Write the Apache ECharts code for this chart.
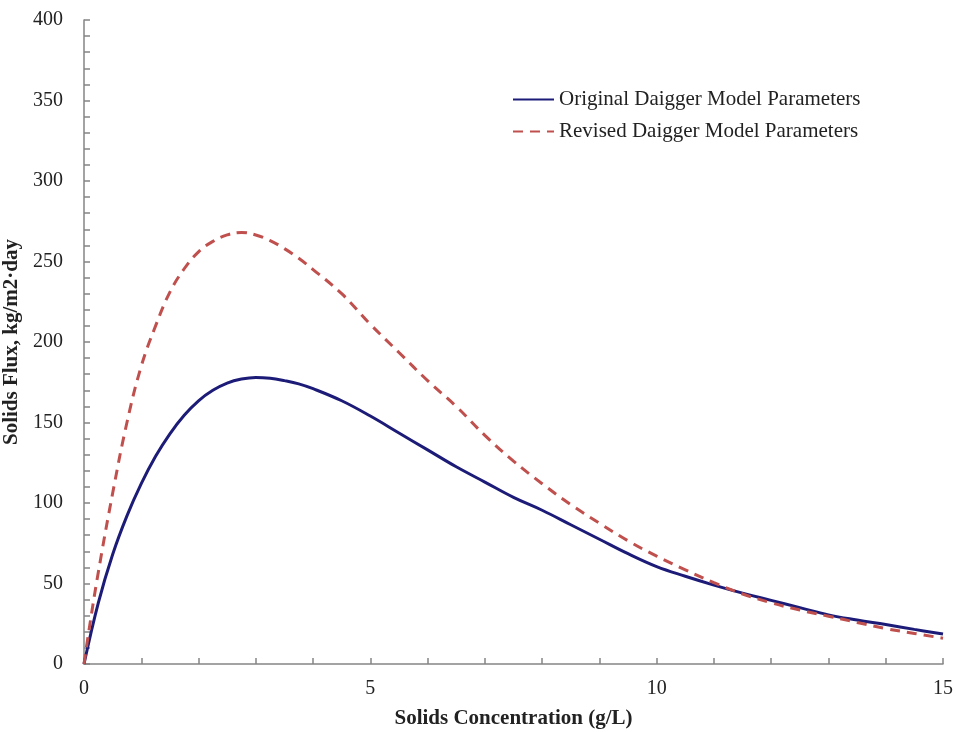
<!DOCTYPE html>
<html>
<head>
<meta charset="utf-8">
<script src="https://cdn.jsdelivr.net/npm/echarts@6/dist/echarts.min.js"></script>
<style>
  html, body { margin: 0; padding: 0; background: #fff; }
  #chart { width: 958px; height: 732px; }
</style>
</head>
<body>
<div id="chart"></div>
<script>
// series names
const seriesNames = ['Original Daigger Model Parameters', 'Revised Daigger Model Parameters'];

// solids concentration (g/L) and flux (kg/m2·day)
const origX = [0, 0.25, 0.5, 0.75, 1, 1.25, 1.5, 1.75, 2, 2.25, 2.5, 2.75, 3, 3.25, 3.5, 3.75, 4, 4.5, 5, 5.5, 6, 6.5, 7, 7.5, 8, 8.5, 9, 9.5, 10, 10.5, 11, 11.5, 12, 12.5, 13, 13.5, 14, 14.5, 15];
const origY = [0, 38, 68, 92, 112, 129, 143, 154.5, 163.5, 170, 174.5, 177, 178, 177.5, 176, 174, 171, 163.5, 154, 143.5, 133, 122.5, 113, 103.5, 95.5, 86.5, 77.5, 68.5, 60.5, 54.5, 49, 44, 39.5, 35, 30.5, 27.3, 24.5, 21.5, 18.6];

const revX = [0, 0.1, 0.25, 0.5, 0.75, 1, 1.25, 1.5, 1.75, 2, 2.25, 2.5, 2.75, 3, 3.25, 3.5, 3.75, 4, 4.5, 5, 5.5, 6, 6.5, 7, 7.5, 8, 8.5, 9, 9.5, 10, 10.5, 11, 11.5, 12, 12.5, 13, 13.5, 14, 14.5, 15];
const revY = [0, 24, 57, 106, 150, 185, 210, 231, 245.5, 256, 262.5, 266.5, 268, 266.5, 263, 258, 252, 245, 230, 211, 193.5, 176, 160, 142, 126, 112, 99, 87.5, 76.5, 67, 58.5, 50.5, 43.5, 38, 33.5, 29.7, 25.8, 22, 19, 16];

// axis ticks
const xTicks = [0, 5, 10, 15];
const yTicks = [0, 50, 100, 150, 200, 250, 300, 350, 400];

const pair = (xs, ys) => xs.map((x, i) => [x, ys[i]]);

const myChart = echarts.init(document.getElementById('chart'));

const serif = 'Liberation Serif';
const axisGray = '#858585';

const option = {
  animation: false,
  textStyle: { fontFamily: serif },
  grid: { left: 84, top: 20, right: 15, bottom: 68, containLabel: false, outerBoundsMode: 'none' },
  legend: {
    orient: 'vertical',
    left: 507,
    top: 84,
    itemWidth: 41,
    itemHeight: 12,
    itemGap: 11,
    itemStyle: { opacity: 0 },
    textStyle: { fontFamily: serif, fontSize: 21, color: '#222' },
    data: seriesNames,
  },
  xAxis: {
    type: 'value',
    min: xTicks[0],
    max: xTicks[xTicks.length - 1],
    interval: 5,
    name: 'Solids Concentration (g/L)',
    nameLocation: 'middle',
    nameGap: 44,
    nameTextStyle: { fontFamily: serif, fontSize: 21, fontWeight: 'bold', color: '#222' },
    axisLine: { lineStyle: { color: axisGray, width: 1.5 } },
    axisTick: { show: true, inside: true, length: 6, lineStyle: { color: axisGray, width: 1.5 } },
    minorTick: { show: true, splitNumber: 5, length: 6, lineStyle: { color: axisGray, width: 1.5 } },
    axisLabel: { fontFamily: serif, fontSize: 20, color: '#222', margin: 15 },
    splitLine: { show: false },
  },
  yAxis: {
    type: 'value',
    min: yTicks[0],
    max: yTicks[yTicks.length - 1],
    interval: 50,
    name: 'Solids Flux, kg/m2·day',
    nameLocation: 'middle',
    nameGap: 54,
    nameTextStyle: { fontFamily: serif, fontSize: 21, fontWeight: 'bold', color: '#222' },
    axisLine: { show: true, lineStyle: { color: axisGray, width: 1.5 } },
    axisTick: { show: true, inside: true, length: 6, lineStyle: { color: axisGray, width: 1.5 } },
    minorTick: { show: true, splitNumber: 5, length: 6, lineStyle: { color: axisGray, width: 1.5 } },
    axisLabel: { fontFamily: serif, fontSize: 20, color: '#222', margin: 21 },
    splitLine: { show: false },
  },
  series: [
    {
      name: seriesNames[0],
      type: 'line',
      smooth: 0.4,
      showSymbol: false,
      symbol: 'none',
      data: pair(origX, origY),
      lineStyle: { color: '#1c1c78', width: 3 },
      itemStyle: { color: '#1c1c78' },
    },
    {
      name: seriesNames[1],
      type: 'line',
      smooth: 0.4,
      showSymbol: false,
      symbol: 'none',
      data: pair(revX, revY),
      lineStyle: { color: '#c0504d', width: 3, type: [10, 7] },
      itemStyle: { color: '#c0504d' },
    },
  ],
};

myChart.setOption(option);
</script>
</body>
</html>
